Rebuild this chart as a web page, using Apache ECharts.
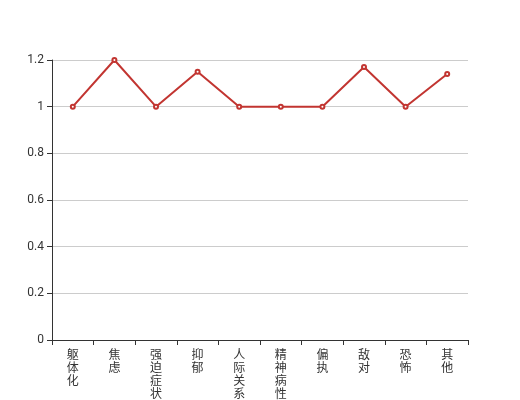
<!DOCTYPE html>
<html><head><meta charset="utf-8">
<script src="https://cdn.jsdelivr.net/npm/echarts@6/dist/echarts.min.js"></script>
<style>html,body{margin:0;padding:0;background:#fff}#c{width:520px;height:400px}</style>
</head><body><div id="c"></div>
<script>
const categories = ['躯体化','焦虑','强迫症状','抑郁','人际关系敏感','精神病性','偏执','敌对','恐怖','其他'];
const values = [1, 1.2, 1, 1.15, 1, 1, 1, 1.17, 1, 1.14];
const yTicks = {min: 0, max: 1.2, interval: 0.2};

const chart = echarts.init(document.getElementById('c'));
chart.setOption({
  animation: false,
  backgroundColor: '#fff',
  grid: {left: 52, right: 52, top: 60, bottom: 60, containLabel: false, outerBoundsMode: 'none'},
  xAxis: {
    type: 'category',
    data: categories,
    boundaryGap: true,
    axisLine: {show: true, lineStyle: {color: '#333'}},
    axisTick: {show: true, alignWithLabel: false, lineStyle: {color: '#333'}},
    axisLabel: {
      interval: 0, color: '#333', fontSize: 12, lineHeight: 13,
      hideOverlap: false,
      fontFamily: 'Noto Sans CJK SC, sans-serif',
      formatter: v => v.split('').join('\n')
    }
  },
  yAxis: {
    type: 'value',
    min: yTicks.min, max: yTicks.max, interval: yTicks.interval,
    axisLine: {show: true, lineStyle: {color: '#333'}},
    axisTick: {show: true, lineStyle: {color: '#333'}},
    axisLabel: {color: '#333', fontSize: 12, fontFamily: 'Roboto, sans-serif'},
    splitLine: {show: true, lineStyle: {color: '#ccc'}}
  },
  series: [{
    type: 'line',
    data: values,
    symbol: 'emptyCircle',
    symbolSize: 4,
    itemStyle: {color: '#c23531', borderWidth: 1},
    lineStyle: {color: '#c23531', width: 2}
  }]
});
</script></body></html>
